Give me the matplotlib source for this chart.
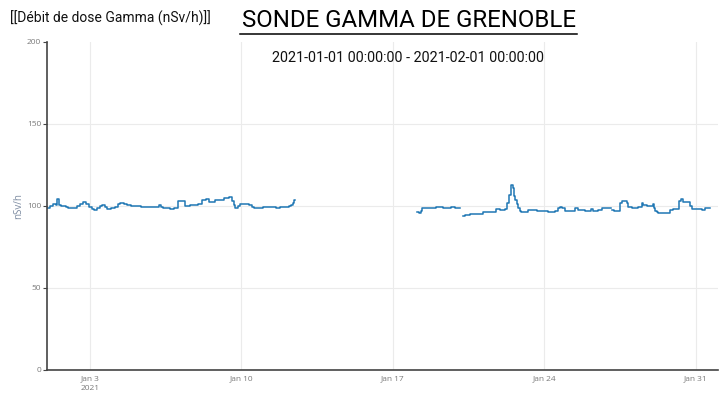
import numpy as np
import pandas as pd
import matplotlib
matplotlib.use("Agg")
import matplotlib.pyplot as plt

# dose rate readings (days since 2021-01-01, nSv/h), step changes
days = [0.00, 0.15, 0.29, 0.43, 0.49, 0.58, 0.66, 0.80, 0.89, 0.98,
        1.26, 1.40, 1.54, 1.68, 1.82, 1.95, 2.09, 2.19, 2.32, 2.46,
        2.57, 2.69, 2.79, 2.97, 3.16, 3.29, 3.39, 3.57, 3.71, 3.90,
        4.36, 4.96, 5.10, 5.19, 5.28, 5.37, 5.70, 5.88, 6.07, 6.39,
        6.62, 6.99, 7.18, 7.36, 7.50, 7.78, 8.01, 8.19, 8.42, 8.56,
        8.66, 8.72, 8.84, 8.93, 9.35, 9.49, 9.58, 10.00, 10.13, 10.60,
        10.69, 10.78, 11.20, 11.29, 11.38, 11.43, 11.47,
        17.10, 17.20, 17.30, 17.34, 17.48, 17.99, 18.29, 18.54, 18.68, 18.87,
        19.10, 19.12,
        19.25, 19.33, 19.56, 20.16, 20.49, 20.76, 20.95, 21.18, 21.27, 21.36,
        21.46, 21.55, 21.59, 21.64, 21.71, 21.78, 21.85, 21.92, 22.24, 22.66,
        23.17, 23.49, 23.63, 23.72, 23.81, 23.95, 24.41, 24.55, 24.88, 25.06,
        25.15, 25.24, 25.48, 25.66, 26.08, 26.12, 26.22, 26.49, 26.59, 26.82,
        26.86, 27.05, 27.32, 27.50, 27.56, 27.74, 28.02, 28.06, 28.13, 28.20,
        28.25, 28.71, 28.80, 28.94, 29.22, 29.31, 29.40, 29.73, 29.80, 30.28,
        30.42, 30.65]
dose = [99.0, 99.8, 101.5, 100.5, 104.0, 100.6, 100.2, 100.0, 99.5, 98.6,
        99.0, 99.8, 101.0, 102.2, 101.2, 99.5, 98.0, 97.6, 98.6, 100.0,
        100.8, 99.5, 98.2, 99.0, 99.6, 101.0, 101.6, 101.0, 100.6, 100.0,
        99.6, 99.2, 99.6, 100.4, 99.2, 98.6, 98.2, 98.8, 102.9, 100.0,
        100.8, 101.2, 103.6, 104.2, 102.6, 103.4, 103.6, 104.7, 105.2, 103.0,
        100.5, 99.0, 99.8, 101.2, 100.6, 99.5, 98.6, 99.2, 99.6, 99.0,
        98.6, 99.6, 99.8, 100.8, 101.8, 103.4, np.nan,
        96.1, 95.5, 97.0, 98.6, 99.0, 99.6, 98.6, 99.0, 99.6, 98.6,
        98.6, np.nan,
        93.9, 94.5, 95.3, 96.3, 96.5, 98.2, 97.5, 98.0, 101.6, 106.7,
        113.0, 111.0, 106.0, 103.7, 101.2, 98.6, 97.0, 96.5, 97.6, 97.0,
        96.1, 97.0, 98.5, 99.6, 98.6, 97.0, 98.6, 97.6, 96.7, 97.0,
        98.2, 96.7, 97.6, 98.6, np.nan, 97.6, 97.0, 101.6, 103.0, 101.6,
        99.6, 98.6, 99.6, 101.6, 100.6, 100.2, 101.0, 99.0, 97.0, 96.5,
        95.9, 95.5, 97.6, 98.2, 103.0, 104.3, 102.2, 100.0, 98.2, 97.6,
        98.6, 98.6]

start = pd.Timestamp("2021-01-01")
end = pd.Timestamp("2021-02-01")
t = start + pd.to_timedelta(days, unit="D")

yticks = [0, 50, 100, 150, 200]
xticks = pd.to_datetime(["2021-01-03", "2021-01-10", "2021-01-17", "2021-01-24", "2021-01-31"])
xlabels = ["Jan 3\n2021", "Jan 10", "Jan 17", "Jan 24", "Jan 31"]

fig = plt.figure(figsize=(7.25, 3.98), dpi=100)
ax = fig.add_axes([0.0644, 0.0704, 0.9254, 0.8241])

ax.plot(t, dose, color="#1f77b4", lw=1.1, drawstyle="steps-post")

ax.set_xlim(start, end)
ax.set_ylim(0, 200)
ax.set_yticks(yticks)
ax.set_xticks(xticks)
ax.set_xticklabels(xlabels)
ax.grid(True, color="#ebebeb", lw=0.8)
ax.set_axisbelow(True)
# no horizontal gridline along the top edge
ax.get_ygridlines()[-1].set_visible(False)

for s in ["top", "right"]:
    ax.spines[s].set_visible(False)
for s in ["left", "bottom"]:
    ax.spines[s].set_color("#444444")
    ax.spines[s].set_linewidth(1.2)

ax.tick_params(axis="y", length=3, width=0.8, color="#444444", labelsize=6,
               labelcolor="#7a7a7a", pad=1)
ax.tick_params(axis="x", length=0, labelsize=6, labelcolor="#7a7a7a", pad=4)
for lab in ax.get_xticklabels() + ax.get_yticklabels():
    lab.set_family("Open Sans")
    lab.set_linespacing(1.5)

ax.set_ylabel("nSv/h", fontsize=7, color="#7b8aa0", family="Open Sans", labelpad=2)

fig.text(0.014, 0.955, "[[Débit de dose Gamma (nSv/h)]]", fontsize=10, family="Roboto",
         color="#111111", ha="left", va="center")
fig.text(0.564, 0.948, "SONDE GAMMA DE GRENOBLE", fontsize=17.3, family="Roboto",
         color="#000000", ha="center", va="center")
fig.add_artist(plt.Line2D([240 / 725, 577 / 725], [1 - 33.5 / 398, 1 - 33.5 / 398],
                          color="black", lw=1.1, transform=fig.transFigure))
fig.text(0.563, 1 - 58 / 398, "2021-01-01 00:00:00 - 2021-02-01 00:00:00", fontsize=10.4,
         family="Roboto", color="#111111", ha="center", va="center")

fig.savefig("out.png", dpi=100)
